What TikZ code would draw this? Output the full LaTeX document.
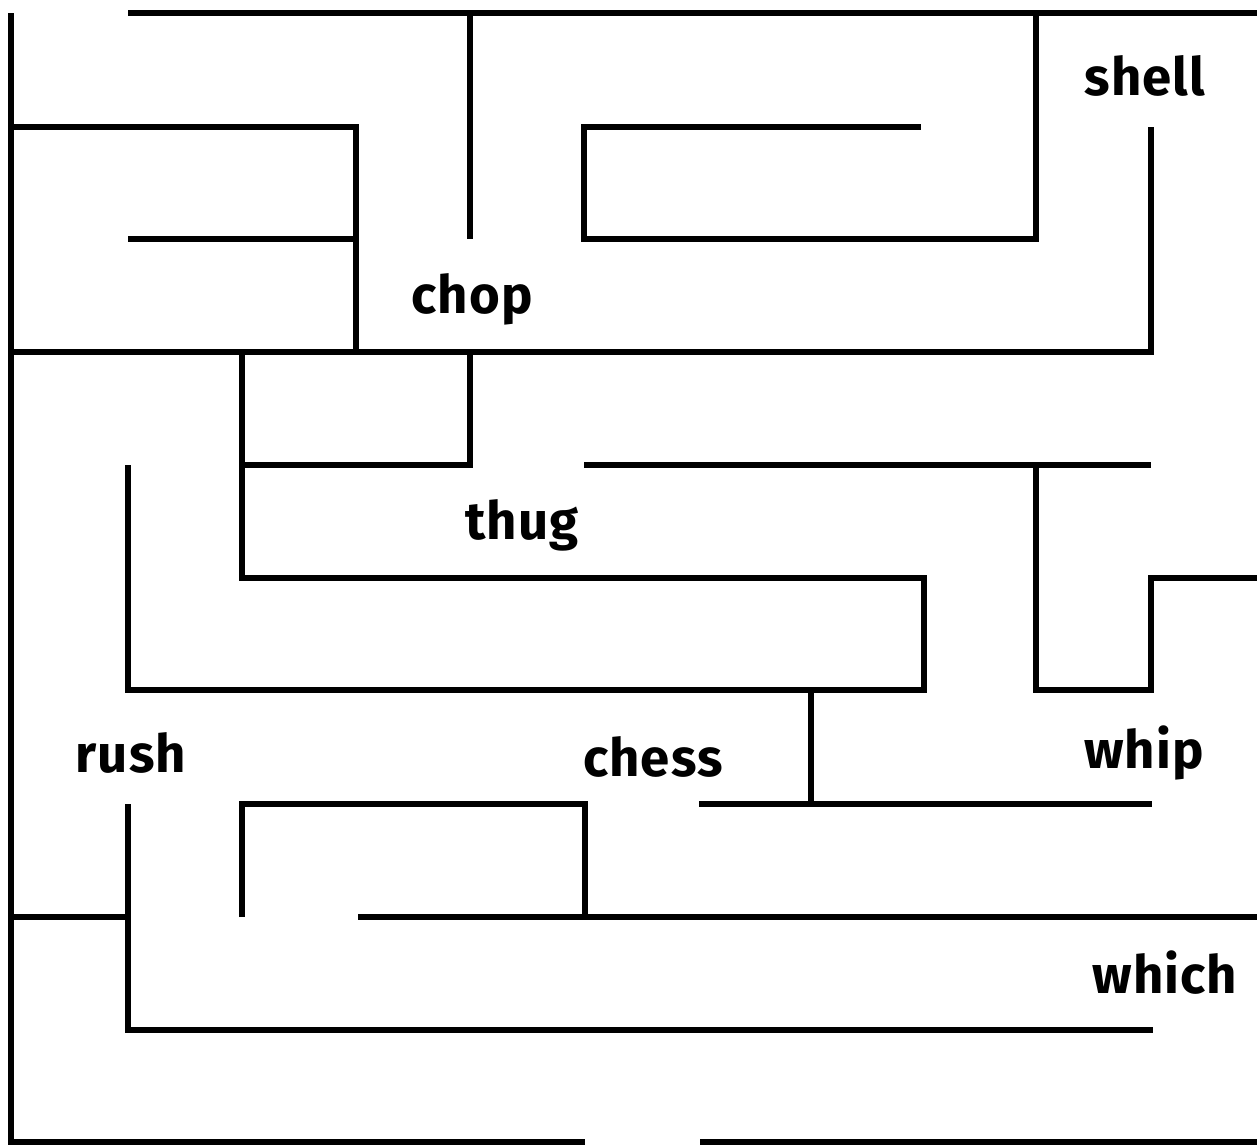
\documentclass[tikz,border=0pt]{standalone}
\usepackage{fontspec}
\setmainfont{Fira Sans}
\newfontfamily\mazefont{Fira Sans}[LetterSpace=2]
\usetikzlibrary{positioning}
\tikzset{
  wall/.style={draw=black, line width=1.8pt, line join=miter},
  word/.style={font=\mazefont\fontsize{15}{17}\selectfont\bfseries, anchor=base, inner sep=0pt},
}

\begin{document}
\begin{tikzpicture}[x=0.1mm, y=-0.1mm]
  \useasboundingbox (0,0) rectangle (1257,1145);

  % ============ outer walls ============
  \draw[wall] (128,13) -- (1257,13);
  \draw[wall] (11,13) -- (11,1142) -- (585,1142);
  \draw[wall] (700,1142) -- (1257,1142);

  % ============ top band ============
  \draw[wall] (470,13) -- (470,239);
  \draw[wall] (1036,13) -- (1036,239) -- (584,239) -- (584,127) -- (921,127);
  \draw[wall] (11,127) -- (356,127) -- (356,352);
  \draw[wall] (128,239) -- (356,239);
  \draw[wall] (11,352) -- (1151,352) -- (1151,127);

  % ============ middle band ============
  \draw[wall] (242,352) -- (242,578) -- (924,578) -- (924,690) -- (128,690) -- (128,465);
  \draw[wall] (242,465) -- (470,465) -- (470,352);
  \draw[wall] (584,465) -- (1151,465);
  \draw[wall] (1036,465) -- (1036,690) -- (1151,690) -- (1151,578) -- (1257,578);
  \draw[wall] (811,690) -- (811,804);
  \draw[wall] (699,804) -- (1152,804);

  % ============ bottom band ============
  \draw[wall] (242,917) -- (242,804) -- (585,804) -- (585,917);
  \draw[wall] (358,917) -- (1257,917);
  \draw[wall] (11,917) -- (128,917);
  \draw[wall] (128,804) -- (128,1030) -- (1153,1030);

  % ============ words ============
  \node[word] (shell) at (1145,95)  {shell};
  \node[word] (chop)  at (472,313)  {chop};
  \node[word] (thug)  at (522,539)  {thug};
  \node[word] (rush)  at (131,772)  {rush};
  \node[word] (chess) at (653,776)  {chess};
  \node[word] (whip)  at (1144,768) {whip};
  \node[word] (which) at (1165,993) {which};

\end{tikzpicture}
\end{document}
